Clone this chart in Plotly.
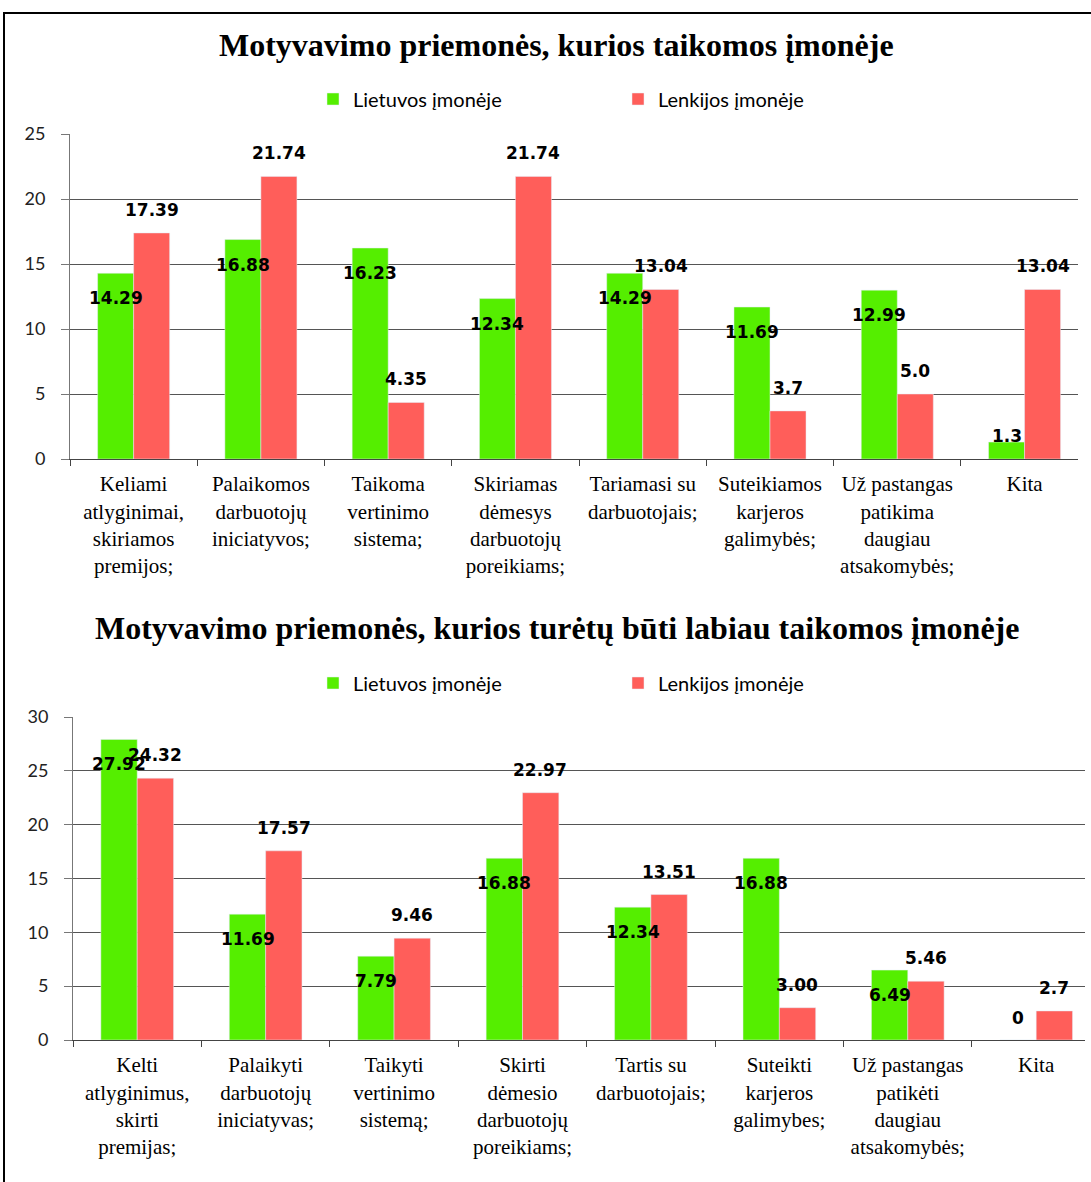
import plotly.graph_objects as go

W, H = 1091, 1182

# ---------------- data ----------------
title1 = "Motyvavimo priemonės, kurios taikomos įmonėje"
title2 = "Motyvavimo priemonės, kurios turėtų būti labiau taikomos įmonėje"
series_names = ["Lietuvos įmonėje", "Lenkijos įmonėje"]

categories1 = [
    "Keliami\natlyginimai,\nskiriamos\npremijos;",
    "Palaikomos\ndarbuotojų\niniciatyvos;",
    "Taikoma\nvertinimo\nsistema;",
    "Skiriamas\ndėmesys\ndarbuotojų\nporeikiams;",
    "Tariamasi su\ndarbuotojais;",
    "Suteikiamos\nkarjeros\ngalimybės;",
    "Už pastangas\npatikima\ndaugiau\natsakomybės;",
    "Kita",
]
lt1 = [14.29, 16.88, 16.23, 12.34, 14.29, 11.69, 12.99, 1.3]
pl1 = [17.39, 21.74, 4.35, 21.74, 13.04, 3.7, 5.0, 13.04]
lt1_labels = ["14.29", "16.88", "16.23", "12.34", "14.29", "11.69", "12.99", "1.3"]
pl1_labels = ["17.39", "21.74", "4.35", "21.74", "13.04", "3.7", "5.0", "13.04"]

categories2 = [
    "Kelti\natlyginimus,\nskirti\npremijas;",
    "Palaikyti\ndarbuotojų\niniciatyvas;",
    "Taikyti\nvertinimo\nsistemą;",
    "Skirti\ndėmesio\ndarbuotojų\nporeikiams;",
    "Tartis su\ndarbuotojais;",
    "Suteikti\nkarjeros\ngalimybes;",
    "Už pastangas\npatikėti\ndaugiau\natsakomybės;",
    "Kita",
]
lt2 = [27.92, 11.69, 7.79, 16.88, 12.34, 16.88, 6.49, 0]
pl2 = [24.32, 17.57, 9.46, 22.97, 13.51, 3.00, 5.46, 2.7]
lt2_labels = ["27.92", "11.69", "7.79", "16.88", "12.34", "16.88", "6.49", "0"]
pl2_labels = ["24.32", "17.57", "9.46", "22.97", "13.51", "3.00", "5.46", "2.7"]

# ---------------- style ----------------
GREEN = "#55EE00"
RED = "#FF5E5A"
GRID = "#555555"
LABEL_FONT = dict(family="DejaVu Sans", size=17, color="black", weight="bold")
TICK_FONT = dict(family="Lato", size=18, color="#222222")
CAT_FONT = dict(family="Liberation Serif", size=21, color="black")
TITLE_FONT = dict(family="Liberation Serif", size=32, color="black", weight="bold")
LEG_FONT = dict(family="Lato", size=20, color="black")


def px_x(p):
    return p / W


def px_y(p):
    return 1 - p / H


def cat_ids(cats):
    return [c.replace("\n", "<br>") for c in cats]


fig = go.Figure()

c1 = cat_ids(categories1)
c2 = cat_ids(categories2)

fig.add_trace(go.Bar(x=c1, y=lt1, name=series_names[0], marker_color=GREEN,
                     xaxis="x", yaxis="y", legend="legend", hoverinfo="skip"))
fig.add_trace(go.Bar(x=c1, y=pl1, name=series_names[1], marker_color=RED,
                     xaxis="x", yaxis="y", legend="legend", hoverinfo="skip"))
fig.add_trace(go.Bar(x=c2, y=lt2, name=series_names[0], marker_color=GREEN,
                     xaxis="x2", yaxis="y2", legend="legend2", hoverinfo="skip"))
fig.add_trace(go.Bar(x=c2, y=pl2, name=series_names[1], marker_color=RED,
                     xaxis="x2", yaxis="y2", legend="legend2", hoverinfo="skip"))

annotations = []


def green_shift(v):
    if v >= 3:
        return -25
    if v > 0:
        return 6
    return 22


for cats, ltv, plv, ltl, pll, xr, yr in [
    (c1, lt1, pl1, lt1_labels, pl1_labels, "x", "y"),
    (c2, lt2, pl2, lt2_labels, pl2_labels, "x2", "y2"),
]:
    for c, v, t in zip(cats, ltv, ltl):
        annotations.append(dict(x=c, y=v, xref=xr, yref=yr, text=t, showarrow=False,
                                xshift=-18, yshift=green_shift(v), font=LABEL_FONT))
    for c, v, t in zip(cats, plv, pll):
        annotations.append(dict(x=c, y=v, xref=xr, yref=yr, text=t, showarrow=False,
                                xshift=18, yshift=23, font=LABEL_FONT))

annotations.append(dict(x=px_x(556), y=px_y(45), xref="paper", yref="paper", text=title1,
                        showarrow=False, font=TITLE_FONT, xanchor="center", yanchor="middle"))
annotations.append(dict(x=px_x(557), y=px_y(628), xref="paper", yref="paper", text=title2,
                        showarrow=False, font=TITLE_FONT, xanchor="center", yanchor="middle"))

xax_common = dict(type="category", tickson="boundaries", ticks="outside", ticklen=6,
                  tickcolor="#444", showline=True, linecolor="#444", linewidth=1,
                  showgrid=False, tickfont=CAT_FONT, tickangle=0, fixedrange=True,
                  automargin=False, ticklabelstandoff=6)
yax_common = dict(showline=True, linecolor="#777", linewidth=1, ticks="outside", ticklen=8,
                  tickcolor="#777", showgrid=True, gridcolor=GRID, gridwidth=1,
                  zeroline=False, tickfont=TICK_FONT, dtick=5, fixedrange=True,
                  automargin=False, ticklabelstandoff=12)

fig.update_layout(
    width=W, height=H,
    margin=dict(l=0, r=0, t=0, b=0, autoexpand=False),
    paper_bgcolor="white", plot_bgcolor="white",
    barmode="group", bargap=0.434, bargroupgap=0,
    showlegend=True,
    xaxis=dict(domain=[px_x(70), px_x(1078)], anchor="y", range=[-0.5, 7.42], **xax_common),
    yaxis=dict(domain=[px_y(459), px_y(134)], anchor="x", range=[0, 25], **yax_common),
    xaxis2=dict(domain=[px_x(73), px_x(1085)], anchor="y2", range=[-0.5, 7.38], **xax_common),
    yaxis2=dict(domain=[px_y(1040), px_y(717)], anchor="x2", range=[0, 30], **yax_common),
    legend=dict(orientation="h", x=px_x(313), y=px_y(99), xanchor="left", yanchor="middle",
                font=LEG_FONT, entrywidth=260, entrywidthmode="pixels",
                bgcolor="rgba(0,0,0,0)", traceorder="normal"),
    legend2=dict(orientation="h", x=px_x(313), y=px_y(683), xanchor="left", yanchor="middle",
                 font=LEG_FONT, entrywidth=260, entrywidthmode="pixels",
                 bgcolor="rgba(0,0,0,0)", traceorder="normal"),
    annotations=annotations,
    shapes=[dict(type="rect", xref="paper", yref="paper", x0=px_x(4), y0=px_y(13),
                 x1=1.02, y1=-0.02, line=dict(color="black", width=2),
                 fillcolor="rgba(0,0,0,0)", layer="above")],
)

fig.write_html("out.html")
